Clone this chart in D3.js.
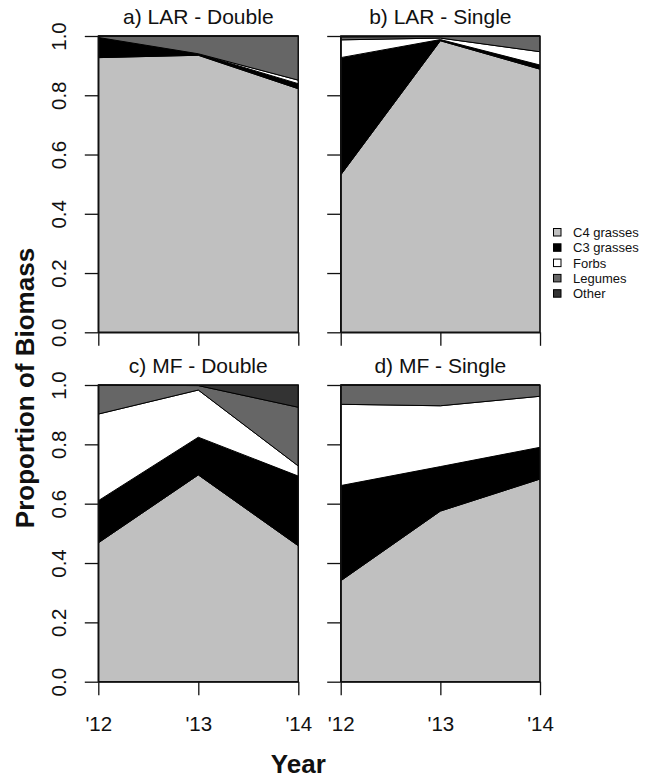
<!DOCTYPE html>
<html>
<head>
<meta charset="utf-8">
<script src="https://cdn.jsdelivr.net/npm/d3@7"></script>
<style>
  html, body { margin: 0; padding: 0; background: #fff; }
  svg { display: block; font-family: "Liberation Sans", Arial, Helvetica, sans-serif; }
</style>
</head>
<body>
<svg id="chart" width="654" height="778"></svg>
<script>
// ---- data ----
const years = ["'12", "'13", "'14"];
const groups = ["C4 grasses", "C3 grasses", "Forbs", "Legumes", "Other"];
const groupColors = ["#c0c0c0", "#000000", "#ffffff", "#666666", "#333333"];
const yTicks = [0, 0.2, 0.4, 0.6, 0.8, 1.0];
const panelTitles = ["a) LAR - Double", "b) LAR - Single", "c) MF - Double", "d) MF - Single"];
// proportion of biomass per year: [C4, C3, Forbs, Legumes, Other]
const larDouble = [
  [0.927, 0.068, 0.000, 0.005, 0.000],
  [0.935, 0.005, 0.000, 0.060, 0.000],
  [0.822, 0.017, 0.012, 0.149, 0.000]
];
const larSingle = [
  [0.531, 0.396, 0.060, 0.010, 0.003],
  [0.984, 0.004, 0.005, 0.005, 0.002],
  [0.888, 0.014, 0.045, 0.053, 0.000]
];
const mfDouble = [
  [0.468, 0.142, 0.292, 0.098, 0.000],
  [0.697, 0.127, 0.159, 0.015, 0.002],
  [0.458, 0.235, 0.034, 0.198, 0.075]
];
const mfSingle = [
  [0.340, 0.321, 0.274, 0.065, 0.000],
  [0.575, 0.150, 0.205, 0.070, 0.000],
  [0.683, 0.107, 0.172, 0.038, 0.000]
];
const panelData = [larDouble, larSingle, mfDouble, mfSingle];

// ---- layout ----
const svg = d3.select("#chart");
const colX = [[98.3, 298.3], [340.7, 540]];
const rowY = [[36, 332.3], [385, 681.7]];
const tickLen = 13.5;

const stack = d3.stack().keys(groups);

panelData.forEach((rows, i) => {
  const col = i % 2, row = Math.floor(i / 2);
  const x = d3.scalePoint().domain(years).range(colX[col]).padding(0);
  const y = d3.scaleLinear().domain([0, 1]).range([rowY[row][1], rowY[row][0]]);

  const tableRows = rows.map((vals, j) => {
    const o = { year: years[j] };
    groups.forEach((g, k) => { o[g] = vals[k]; });
    return o;
  });
  const series = stack(tableRows);

  const area = d3.area()
    .x(d => x(d.data.year))
    .y0(d => y(d[0]))
    .y1(d => y(d[1]));

  const g = svg.append("g");
  g.selectAll("path.layer")
    .data(series)
    .join("path")
    .attr("class", "layer")
    .attr("d", area)
    .attr("fill", (d, k) => groupColors[k])
    .attr("stroke", "#000")
    .attr("stroke-width", 1)
    .attr("stroke-linejoin", "miter");

  // box
  g.append("rect")
    .attr("x", colX[col][0]).attr("y", rowY[row][0])
    .attr("width", colX[col][1] - colX[col][0])
    .attr("height", rowY[row][1] - rowY[row][0])
    .attr("fill", "none").attr("stroke", "#111").attr("stroke-width", 1.3);

  // y axis
  const yAxis = d3.axisLeft(y).tickValues(yTicks).tickSize(tickLen).tickSizeOuter(0)
    .tickFormat(col === 0 ? d3.format(".1f") : () => "");
  const ya = g.append("g").attr("transform", `translate(${colX[col][0]},0)`).call(yAxis);
  ya.select(".domain").attr("stroke", "#111").attr("stroke-width", 1.3);
  ya.selectAll(".tick line").attr("stroke", "#111").attr("stroke-width", 1.3);
  ya.selectAll(".tick text")
    .attr("transform", "rotate(-90)")
    .attr("x", 0).attr("y", -(colX[col][0] - 65.5)).attr("dy", 0)
    .attr("text-anchor", "middle")
    .attr("font-size", 20.5).attr("fill", "#111")
    .attr("font-family", "Liberation Sans, Arial, sans-serif");

  // x axis
  const xAxis = d3.axisBottom(x).tickSize(tickLen).tickSizeOuter(0)
    .tickFormat(row === 1 ? (d => d) : () => "");
  const xa = g.append("g").attr("transform", `translate(0,${rowY[row][1]})`).call(xAxis);
  xa.select(".domain").attr("stroke", "#111").attr("stroke-width", 1.3);
  xa.selectAll(".tick line").attr("stroke", "#111").attr("stroke-width", 1.3);
  xa.selectAll(".tick text")
    .attr("y", 49.3).attr("dy", 0)
    .attr("font-size", 20.5).attr("fill", "#111")
    .attr("font-family", "Liberation Sans, Arial, sans-serif");

  // title
  svg.append("text")
    .attr("x", (colX[col][0] + colX[col][1]) / 2)
    .attr("y", rowY[row][0] - 12)
    .attr("text-anchor", "middle")
    .attr("font-size", 21).attr("fill", "#111")
    .text(panelTitles[i]);
});

// axis titles
svg.append("text")
  .attr("x", 298.3).attr("y", 773)
  .attr("text-anchor", "middle")
  .attr("font-size", 26).attr("font-weight", "bold").attr("fill", "#111")
  .text("Year");

svg.append("text")
  .attr("transform", "translate(33.5,388) rotate(-90)")
  .attr("text-anchor", "middle")
  .attr("font-size", 26).attr("font-weight", "bold").attr("fill", "#111")
  .text("Proportion of Biomass");

// legend
const legend = svg.append("g");
groups.forEach((name, k) => {
  const cy = 232.5 + 15.3 * k;
  legend.append("rect")
    .attr("x", 553.5).attr("y", cy - 4)
    .attr("width", 7.5).attr("height", 7.5)
    .attr("fill", groupColors[k]).attr("stroke", "#000").attr("stroke-width", 1);
  legend.append("text")
    .attr("x", 573).attr("y", cy).attr("dy", "0.36em")
    .attr("font-size", 13).attr("fill", "#111")
    .text(name);
});
</script>
</body>
</html>
